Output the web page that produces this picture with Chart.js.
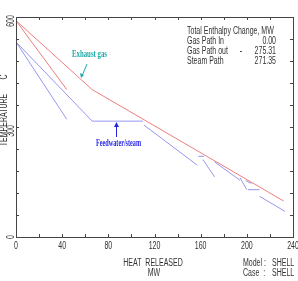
<!DOCTYPE html>
<html>
<head>
<meta charset="utf-8">
<script src="https://cdn.jsdelivr.net/npm/chart.js@4"></script>
<style>
  html, body { margin: 0; padding: 0; background: #fff; }
  #wrap { width: 298px; height: 281px; }
</style>
</head>
<body>
<div id="wrap"><canvas id="tqChart" width="298" height="281"></canvas></div>
<script>
'use strict';

// x = heat released (MW), y = temperature (C)
const gasMainX = [0, 66, 232];
const gasMainY = [590, 402, 98];
const gasBypassX = [0, 44];
const gasBypassY = [590, 402];

const steamSegments = [
    { x: [0, 44], y: [532, 321] },
    { x: [0, 66, 110], y: [532, 316, 316] },
    { x: [111, 157], y: [305, 196] },
    { x: [158, 163], y: [220, 220] },
    { x: [162, 172], y: [211, 164] },
    { x: [172, 194], y: [205, 155] },
    { x: [194, 200], y: [162, 129] },
    { x: [199, 204], y: [154, 146] },
    { x: [201, 211], y: [129, 129] },
    { x: [211, 233], y: [111, 70] }
];

const xTicks = [0, 40, 80, 120, 160, 200, 240];
const yTicks = [0, 300, 600];

const summaryLines = [
    ['Total Enthalpy Change, MW', '', ''],
    ['Gas Path In', '', '0.00'],
    ['Gas Path out', '-', '275.31'],
    ['Steam Path', '', '271.35']
];

const RED = 'rgb(240,125,125)';
const BLUE = 'rgb(150,150,240)';
const SANS = "10px 'Liberation Sans', Arial, sans-serif";
const SERIF = "bold 10px 'Liberation Serif', 'DejaVu Serif', serif";
const SQUEEZE = 0.7;

function toPoints(xs, ys) {
    return xs.map((x, i) => ({ x: x, y: ys[i] }));
}

const datasets = [
    { data: toPoints(gasMainX, gasMainY), borderColor: RED },
    { data: toPoints(gasBypassX, gasBypassY), borderColor: RED }
];
steamSegments.forEach(seg => {
    datasets.push({ data: toPoints(seg.x, seg.y), borderColor: BLUE });
});

// narrow text: squeeze along the writing direction
function narrowText(ctx, text, x, y, align, rot, sx) {
    ctx.save();
    ctx.translate(x, y);
    if (rot) ctx.rotate(rot);
    ctx.scale(sx || SQUEEZE, 1);
    ctx.textAlign = align || 'left';
    ctx.textBaseline = 'middle';
    ctx.fillText(text, 0, 0);
    ctx.restore();
}

const framePlugin = {
    id: 'frame',
    afterDraw(chart) {
        const ctx = chart.ctx,
            area = chart.chartArea,
            xs = chart.scales.x,
            ys = chart.scales.y;

        ctx.save();
        ctx.strokeStyle = '#444';
        ctx.lineWidth = 1;
        ctx.strokeRect(area.left + 0.5, area.top + 0.5, area.right - area.left, area.bottom - area.top);

        // inward ticks
        ctx.beginPath();
        for (let v = 0; v <= 240; v += 20) {
            const px = Math.round(xs.getPixelForValue(v)) + 0.5;
            ctx.moveTo(px, area.bottom); ctx.lineTo(px, area.bottom - 3);
            ctx.moveTo(px, area.top); ctx.lineTo(px, area.top + 3);
        }
        for (let v = 0; v <= 600; v += 60) {
            const py = Math.round(ys.getPixelForValue(v)) + 0.5;
            ctx.moveTo(area.left, py); ctx.lineTo(area.left + 3, py);
            ctx.moveTo(area.right, py); ctx.lineTo(area.right - 3, py);
        }
        ctx.stroke();

        ctx.fillStyle = '#333';
        ctx.font = SANS;
        xTicks.forEach(v => {
            narrowText(ctx, String(v), xs.getPixelForValue(v), area.bottom + 9, 'center');
        });
        yTicks.forEach(v => {
            const py = Math.min(ys.getPixelForValue(v) + 4, area.bottom);
            narrowText(ctx, String(v), 11, py, 'center', -Math.PI / 2);
        });

        // axis titles
        narrowText(ctx, 'TEMPERATURE', 4, 120, 'center', -Math.PI / 2);
        narrowText(ctx, 'C', 4, 77, 'center', -Math.PI / 2);
        narrowText(ctx, 'HEAT  RELEASED', 153, 263, 'center');
        narrowText(ctx, 'MW', 154, 273, 'center');

        narrowText(ctx, 'Model :', 243, 263, 'left');
        narrowText(ctx, 'Case  :', 243, 273, 'left');
        narrowText(ctx, 'SHELL', 272, 263, 'left');
        narrowText(ctx, 'SHELL', 272, 273, 'left');

        // summary box
        summaryLines.forEach((row, i) => {
            const y = 31.5 + i * 9.8;
            narrowText(ctx, row[0], 187, y, 'left');
            if (row[1]) narrowText(ctx, row[1], 241, y, 'center');
            if (row[2]) narrowText(ctx, row[2], 276, y, 'right');
        });

        // annotations
        ctx.font = SERIF;
        ctx.fillStyle = 'rgb(30,170,170)';
        narrowText(ctx, 'Exhaust gas', 72, 54, 'left', 0, 0.68);
        ctx.strokeStyle = 'rgb(30,170,170)';
        ctx.beginPath();
        ctx.moveTo(87, 64); ctx.lineTo(82, 76);
        ctx.stroke();
        ctx.beginPath();
        ctx.moveTo(81, 78); ctx.lineTo(80, 73); ctx.lineTo(84, 75); ctx.closePath();
        ctx.fill();

        ctx.fillStyle = 'rgb(40,40,230)';
        narrowText(ctx, 'Feedwater/steam', 96, 143, 'left', 0, 0.62);
        ctx.strokeStyle = 'rgb(40,40,230)';
        ctx.beginPath();
        ctx.moveTo(116.5, 137); ctx.lineTo(116.5, 125);
        ctx.stroke();
        ctx.beginPath();
        ctx.moveTo(116.5, 122); ctx.lineTo(114, 127); ctx.lineTo(119, 127); ctx.closePath();
        ctx.fill();

        ctx.restore();
    }
};

new Chart(document.getElementById('tqChart'), {
    type: 'scatter',
    data: { datasets: datasets },
    options: {
        responsive: false,
        animation: false,
        showLine: true,
        elements: {
            line: { borderWidth: 1, tension: 0 },
            point: { radius: 0 }
        },
        layout: {
            padding: { left: 16, top: 17, right: 5, bottom: 44 }
        },
        plugins: {
            legend: { display: false },
            tooltip: { enabled: false }
        },
        scales: {
            x: { type: 'linear', min: 0, max: 240, display: false },
            y: { type: 'linear', min: 0, max: 600, display: false }
        }
    },
    plugins: [framePlugin]
});
</script>
</body>
</html>
